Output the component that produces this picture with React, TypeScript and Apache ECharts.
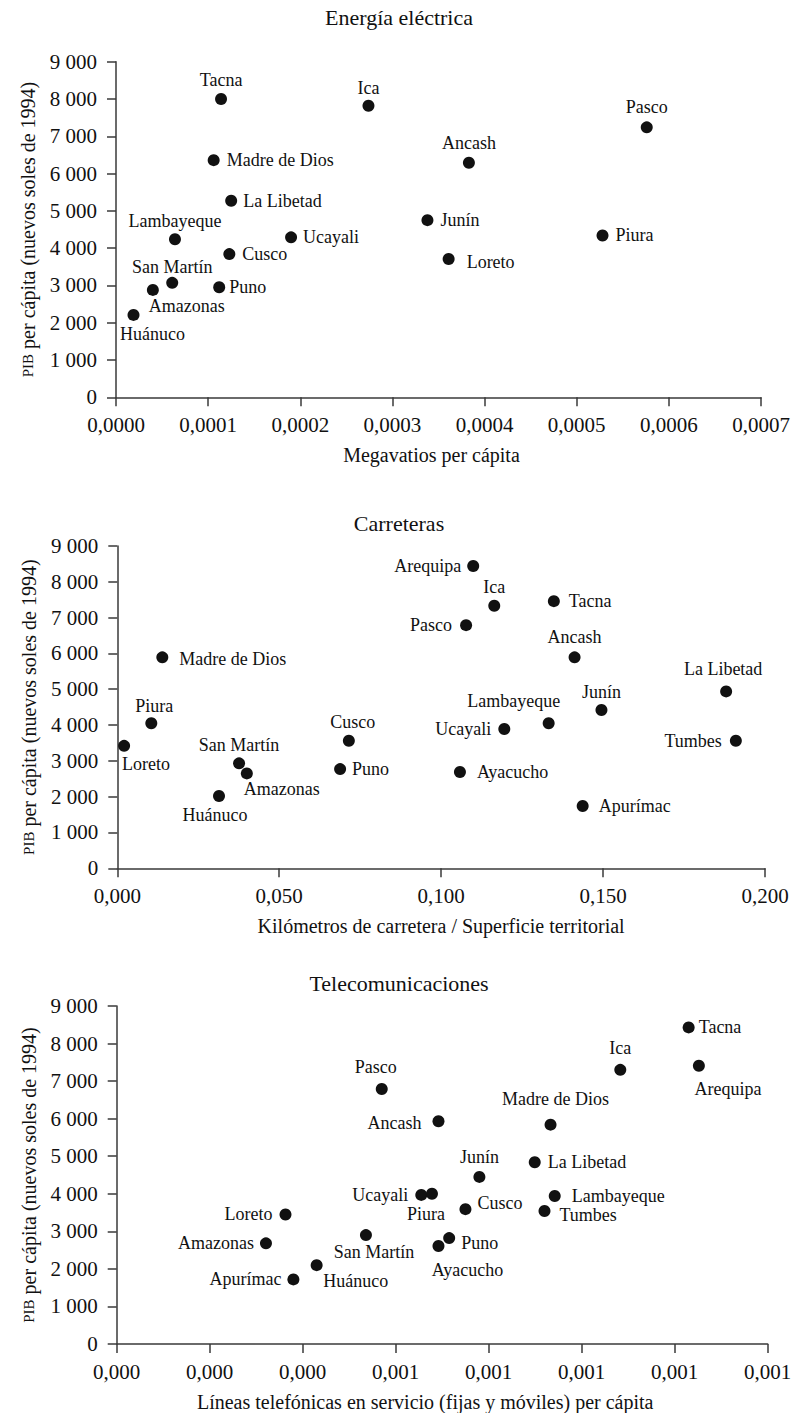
import React, { useEffect, useRef } from "react";
import * as echarts from "echarts";

const FONT = "'Liberation Serif', 'Times New Roman', serif";
const INK = "#111111";
const AXIS = "#3a3a3a";

// ---------- texts ----------
const panelTitles = ["Energía eléctrica", "Carreteras", "Telecomunicaciones"];
const xAxisNames = [
  "Megavatios per cápita",
  "Kilómetros de carretera / Superficie territorial",
  "Líneas telefónicas en servicio (fijas y móviles) per cápita",
];
const yAxisName = "{sc|PIB} per cápita (nuevos soles de 1994)";

// ---------- tick labels ----------
const yTickLabels = ["0", "1 000", "2 000", "3 000", "4 000", "5 000", "6 000", "7 000", "8 000", "9 000"];
const xTickLabelsEnergy = ["0,0000", "0,0001", "0,0002", "0,0003", "0,0004", "0,0005", "0,0006", "0,0007"];
const xTickLabelsRoads = ["0,000", "0,050", "0,100", "0,150", "0,200"];
const xTickLabelsTelecom = ["0,000", "0,000", "0,000", "0,001", "0,001", "0,001", "0,001", "0,001"];

// ---------- Energía eléctrica ----------
const energyRegions = ["Tacna", "Ica", "Madre de Dios", "La Libetad", "Lambayeque", "Ucayali", "Cusco", "San Martín", "Amazonas", "Puno", "Huánuco", "Arequipa", "Pasco", "Ancash", "Junín", "Piura", "Loreto"];
const energyMW = [0.000114, 0.000274, 0.000106, 0.000125, 0.000064, 0.00019, 0.000123, 0.000061, 0.00004, 0.000112, 0.000019, 0.000315, 0.000576, 0.000383, 0.000338, 0.000528, 0.000361];
const energyPIB = [8000, 7820, 6360, 5270, 4240, 4290, 3840, 3070, 2880, 2950, 2210, 9040, 7240, 6290, 4750, 4340, 3710];

// ---------- Carreteras ----------
const roadRegions = ["Madre de Dios", "Piura", "Loreto", "San Martín", "Amazonas", "Huánuco", "Cusco", "Puno", "Arequipa", "Ica", "Tacna", "Pasco", "Ancash", "La Libetad", "Junín", "Lambayeque", "Ucayali", "Tumbes", "Ayacucho", "Apurímac"];
const roadDensity = [0.0139, 0.0105, 0.0021, 0.0376, 0.04, 0.0314, 0.0715, 0.0688, 0.1099, 0.1164, 0.1348, 0.1077, 0.1412, 0.188, 0.1495, 0.1332, 0.1195, 0.191, 0.1058, 0.1437];
const roadPIB = [5890, 4050, 3420, 2930, 2650, 2020, 3560, 2770, 8440, 7330, 7460, 6790, 5890, 4940, 4420, 4050, 3890, 3560, 2690, 1740];

// ---------- Telecomunicaciones ----------
const telRegions = ["Pasco", "Loreto", "Amazonas", "Huánuco", "Apurímac", "San Martín", "Tacna", "Arequipa", "Ica", "Madre de Dios", "Ancash", "Junín", "La Libetad", "Ucayali", "Piura", "Cusco", "Lambayeque", "Tumbes", "Puno", "Ayacucho"];
const telLines = [0.00057, 0.000363, 0.000321, 0.00043, 0.00038, 0.000536, 0.00123, 0.001252, 0.001083, 0.000933, 0.000692, 0.00078, 0.000899, 0.000655, 0.000678, 0.00075, 0.000942, 0.00092, 0.000715, 0.000692];
const telPIB = [6790, 3450, 2680, 2100, 1720, 2900, 8430, 7410, 7300, 5840, 5930, 4450, 4840, 3970, 4000, 3590, 3940, 3540, 2820, 2610];

// ---------- label placement (style): [side, distance, dx, dy] ----------
type Place = [string, number, number?, number?];
const energyPlace: Place[] = [
  ["top", 4], ["top", 3], ["right", 7], ["right", 6], ["top", 3], ["right", 6], ["right", 7], ["top", 1],
  ["bottom", 1, 34], ["right", 4], ["bottom", 4, 19], ["right", 8], ["top", 5], ["top", 5], ["right", 7], ["right", 7], ["right", 12, 0, 3],
];
const roadPlace: Place[] = [
  ["right", 11, 0, 2], ["top", 2, 3], ["bottom", 3, 22], ["top", 3], ["bottom", 1, 35], ["bottom", 4, -4], ["top", 4, 4], ["right", 6],
  ["left", 6], ["top", 4], ["right", 9], ["left", 8], ["top", 5], ["top", 7, -3], ["top", 3], ["top", 7, -35], ["left", 7], ["left", 8], ["right", 11], ["right", 10],
];
const telPlace: Place[] = [
  ["top", 7, -6], ["left", 7], ["left", 6], ["bottom", 1, 39], ["left", 6], ["bottom", 2, 8], ["right", 4], ["bottom", 8, 29],
  ["top", 7], ["top", 11, 5], ["left", 11, 0, 2], ["top", 5], ["right", 7], ["left", 7], ["bottom", 5, -6], ["right", 6, 0, -6],
  ["right", 11], ["right", 9, 0, 4], ["right", 6, 0, 5], ["bottom", 9, 29],
];

const grids = [
  { left: 116, top: 61.7, width: 645, height: 335.6 },
  { left: 117.3, top: 546, width: 647.7, height: 322.3 },
  { left: 116.7, top: 1006, width: 651, height: 338 },
];
const titleY = [17, 523, 983];
const xNameShift = [14, 0, 34];

function buildData(names: string[], xs: number[], ys: number[], place: Place[]) {
  return names.map((n, i) => {
    const p = place[i];
    return {
      name: n,
      value: [xs[i], ys[i]],
      label: { position: p[0], distance: p[1], offset: [p[2] || 0, p[3] || 0] },
    };
  });
}

export default function App() {
  const ref = useRef<HTMLDivElement>(null);
  useEffect(() => {
    if (!ref.current) return;
    const chart = echarts.init(ref.current, null, { renderer: "svg" });
    const text = { fontFamily: FONT, color: INK };
    const axisLine = { show: true, onZero: false, lineStyle: { color: AXIS, width: 1.5 } };
    const axisTick = { show: true, inside: false, length: 9, lineStyle: { color: AXIS, width: 1.5 } };

    const xSpecs = [
      { max: 0.0007, interval: 0.0001, labels: xTickLabelsEnergy },
      { max: 0.2, interval: 0.05, labels: xTickLabelsRoads },
      { max: 0.0014, interval: 0.0002, labels: xTickLabelsTelecom },
    ];

    const xAxis = xSpecs.map((s, i) => ({
      gridIndex: i,
      type: "value",
      min: 0,
      max: s.max,
      interval: s.interval,
      axisLine,
      axisTick,
      splitLine: { show: false },
      axisLabel: {
        ...text,
        fontSize: 21,
        margin: 17,
        formatter: (v: number) => s.labels[Math.round(v / s.interval)] ?? "",
      },
      name: xAxisNames[i],
      nameLocation: "middle",
      nameGap: 48,
      nameTextStyle: { ...text, fontSize: 20, padding: [0, xNameShift[i], 0, 0] },
    }));

    const yAxis = [0, 1, 2].map((i) => ({
      gridIndex: i,
      type: "value",
      min: 0,
      max: 9000,
      interval: 1000,
      axisLine,
      axisTick,
      splitLine: { show: false },
      axisLabel: {
        ...text,
        fontSize: 21,
        margin: 19,
        formatter: (v: number) => yTickLabels[Math.round(v / 1000)] ?? "",
      },
      name: yAxisName,
      nameLocation: "middle",
      nameGap: 78,
      nameTextStyle: { ...text, fontSize: 20, rich: { sc: { ...text, fontSize: 15 } } },
    }));

    const datasets = [
      buildData(energyRegions, energyMW, energyPIB, energyPlace),
      buildData(roadRegions, roadDensity, roadPIB, roadPlace),
      buildData(telRegions, telLines, telPIB, telPlace),
    ];

    const series = datasets.map((d, i) => ({
      type: "scatter",
      xAxisIndex: i,
      yAxisIndex: i,
      symbol: "circle",
      symbolSize: 12,
      itemStyle: { color: "#111111", opacity: 1 },
      label: { show: true, formatter: "{b}", fontSize: 18, ...text },
      emphasis: { disabled: true },
      data: d,
    }));

    chart.setOption({
      animation: false,
      backgroundColor: "#ffffff",
      grid: grids.map((g) => ({ ...g, containLabel: false, outerBoundsMode: "none" })),
      xAxis,
      yAxis,
      series,
      graphic: panelTitles.map((t, i) => ({
        type: "text",
        x: 399,
        y: titleY[i],
        style: { text: t, font: `22px ${FONT}`, fill: INK, align: "center", verticalAlign: "middle" },
      })),
    });
    return () => chart.dispose();
  }, []);
  return <div ref={ref} style={{ position: "absolute", left: 0, top: 0, width: 792, height: 1413 }} />;
}
